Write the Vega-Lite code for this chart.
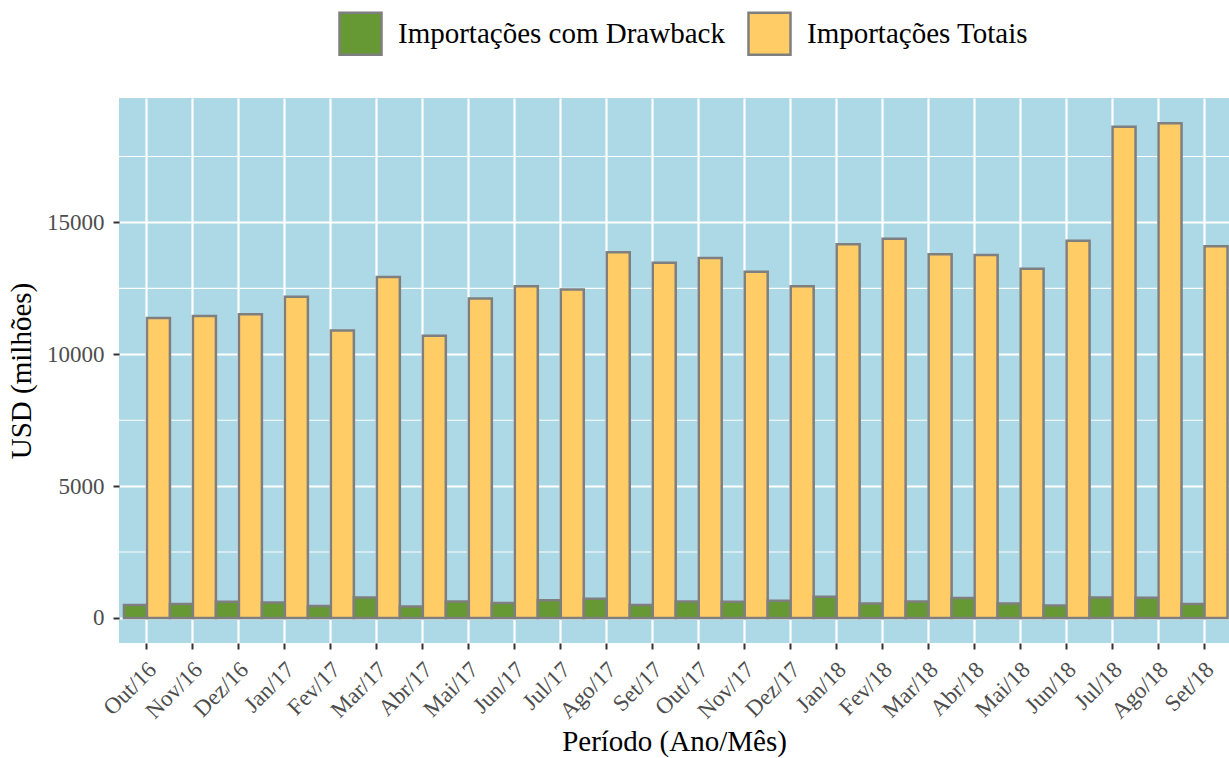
{
  "$schema": "https://vega.github.io/schema/vega-lite/v6.json",
  "width": 1110,
  "height": 545,
  "autosize": {"type": "none"},
  "padding": {"left": 119, "top": 98, "right": 0, "bottom": 115},
  "background": "white",
  "config": {
    "font": "Liberation Serif",
    "view": {"fill": "#ADD8E6", "stroke": null},
    "axis": {
      "domain": false,
      "grid": true,
      "gridColor": "white",
      "gridWidth": 2.2,
      "tickColor": "#333333",
      "tickWidth": 2,
      "tickSize": 6,
      "labelFont": "Liberation Serif",
      "labelFontSize": 23,
      "labelColor": "#4D4D4D",
      "titleFont": "Liberation Serif",
      "titleFontSize": 29,
      "titleFontWeight": "normal",
      "titleColor": "black"
    },
    "legend": {
      "labelFont": "Liberation Serif",
      "labelFontSize": 29,
      "labelColor": "black",
      "labelLimit": 0
    }
  },
  "layer": [
    {
      "data": {"values": [{"v": 2500}, {"v": 7500}, {"v": 12500}, {"v": 17500}]},
      "mark": {"type": "rule", "color": "white", "strokeWidth": 1.1},
      "encoding": {
        "y": {
          "field": "v",
          "type": "quantitative",
          "scale": {"domain": [-950, 19720], "nice": false, "zero": false},
          "axis": {"values": [0, 5000, 10000, 15000], "format": "d", "labelPadding": 9, "titlePadding": 10, "title": "USD (milhões)"}
        }
      }
    },
    {
      "data": {
        "values": [
          {"periodo": "Out/16", "serie": "Importações com Drawback", "valor": 490},
          {"periodo": "Out/16", "serie": "Importações Totais", "valor": 11372},
          {"periodo": "Nov/16", "serie": "Importações com Drawback", "valor": 530},
          {"periodo": "Nov/16", "serie": "Importações Totais", "valor": 11450},
          {"periodo": "Dez/16", "serie": "Importações com Drawback", "valor": 610},
          {"periodo": "Dez/16", "serie": "Importações Totais", "valor": 11516},
          {"periodo": "Jan/17", "serie": "Importações com Drawback", "valor": 585},
          {"periodo": "Jan/17", "serie": "Importações Totais", "valor": 12184},
          {"periodo": "Fev/17", "serie": "Importações com Drawback", "valor": 455},
          {"periodo": "Fev/17", "serie": "Importações Totais", "valor": 10900},
          {"periodo": "Mar/17", "serie": "Importações com Drawback", "valor": 780},
          {"periodo": "Mar/17", "serie": "Importações Totais", "valor": 12931},
          {"periodo": "Abr/17", "serie": "Importações com Drawback", "valor": 430},
          {"periodo": "Abr/17", "serie": "Importações Totais", "valor": 10704},
          {"periodo": "Mai/17", "serie": "Importações com Drawback", "valor": 625},
          {"periodo": "Mai/17", "serie": "Importações Totais", "valor": 12118},
          {"periodo": "Jun/17", "serie": "Importações com Drawback", "valor": 570},
          {"periodo": "Jun/17", "serie": "Importações Totais", "valor": 12577},
          {"periodo": "Jul/17", "serie": "Importações com Drawback", "valor": 675},
          {"periodo": "Jul/17", "serie": "Importações Totais", "valor": 12459},
          {"periodo": "Ago/17", "serie": "Importações com Drawback", "valor": 730},
          {"periodo": "Ago/17", "serie": "Importações Totais", "valor": 13874},
          {"periodo": "Set/17", "serie": "Importações com Drawback", "valor": 495},
          {"periodo": "Set/17", "serie": "Importações Totais", "valor": 13468},
          {"periodo": "Out/17", "serie": "Importações com Drawback", "valor": 625},
          {"periodo": "Out/17", "serie": "Importações Totais", "valor": 13651},
          {"periodo": "Nov/17", "serie": "Importações com Drawback", "valor": 610},
          {"periodo": "Nov/17", "serie": "Importações Totais", "valor": 13127},
          {"periodo": "Dez/17", "serie": "Importações com Drawback", "valor": 650},
          {"periodo": "Dez/17", "serie": "Importações Totais", "valor": 12577},
          {"periodo": "Jan/18", "serie": "Importações com Drawback", "valor": 805},
          {"periodo": "Jan/18", "serie": "Importações Totais", "valor": 14175},
          {"periodo": "Fev/18", "serie": "Importações com Drawback", "valor": 545},
          {"periodo": "Fev/18", "serie": "Importações Totais", "valor": 14385},
          {"periodo": "Mar/18", "serie": "Importações com Drawback", "valor": 625},
          {"periodo": "Mar/18", "serie": "Importações Totais", "valor": 13795},
          {"periodo": "Abr/18", "serie": "Importações com Drawback", "valor": 755},
          {"periodo": "Abr/18", "serie": "Importações Totais", "valor": 13769},
          {"periodo": "Mai/18", "serie": "Importações com Drawback", "valor": 545},
          {"periodo": "Mai/18", "serie": "Importações Totais", "valor": 13245},
          {"periodo": "Jun/18", "serie": "Importações com Drawback", "valor": 470},
          {"periodo": "Jun/18", "serie": "Importações Totais", "valor": 14306},
          {"periodo": "Jul/18", "serie": "Importações com Drawback", "valor": 780},
          {"periodo": "Jul/18", "serie": "Importações Totais", "valor": 18630},
          {"periodo": "Ago/18", "serie": "Importações com Drawback", "valor": 770},
          {"periodo": "Ago/18", "serie": "Importações Totais", "valor": 18760},
          {"periodo": "Set/18", "serie": "Importações com Drawback", "valor": 530},
          {"periodo": "Set/18", "serie": "Importações Totais", "valor": 14097}
        ]
      },
      "mark": {"type": "bar", "stroke": "#7F7F7F", "strokeWidth": 2.5},
      "encoding": {
        "x": {
          "field": "periodo",
          "type": "nominal",
          "sort": null,
          "scale": {"paddingInner": 0, "paddingOuter": 0.07, "align": 0.77},
          "axis": {
            "title": "Período (Ano/Mês)",
            "labelAngle": -45,
            "labelAlign": "right",
            "labelBaseline": "top",
            "labelPadding": 9,
            "labelOffset": -2,
            "titlePadding": 4,
            "bandPosition": 0.5
          }
        },
        "xOffset": {
          "field": "serie",
          "type": "nominal",
          "sort": ["Importações com Drawback", "Importações Totais"],
          "scale": {"paddingInner": 0, "paddingOuter": 0}
        },
        "y": {
          "field": "valor",
          "type": "quantitative",
          "scale": {"domain": [-950, 19720], "nice": false, "zero": false},
          "axis": {"values": [0, 5000, 10000, 15000], "format": "d", "labelPadding": 9, "titlePadding": 10, "title": "USD (milhões)"}
        },
        "color": {
          "field": "serie",
          "type": "nominal",
          "scale": {"domain": ["Importações com Drawback", "Importações Totais"], "range": ["#669933", "#FFCC66"]},
          "legend": {
            "title": null,
            "orient": "none",
            "direction": "horizontal",
            "legendX": 219,
            "legendY": -87,
            "symbolType": "square",
            "symbolSize": 1764,
            "symbolStrokeColor": "#7F7F7F",
            "symbolStrokeWidth": 2.5,
            "symbolOpacity": 1,
            "labelOffset": 15,
            "labelLimit": 0,
            "columnPadding": 18,
            "padding": 0
          }
        }
      }
    }
  ]
}
